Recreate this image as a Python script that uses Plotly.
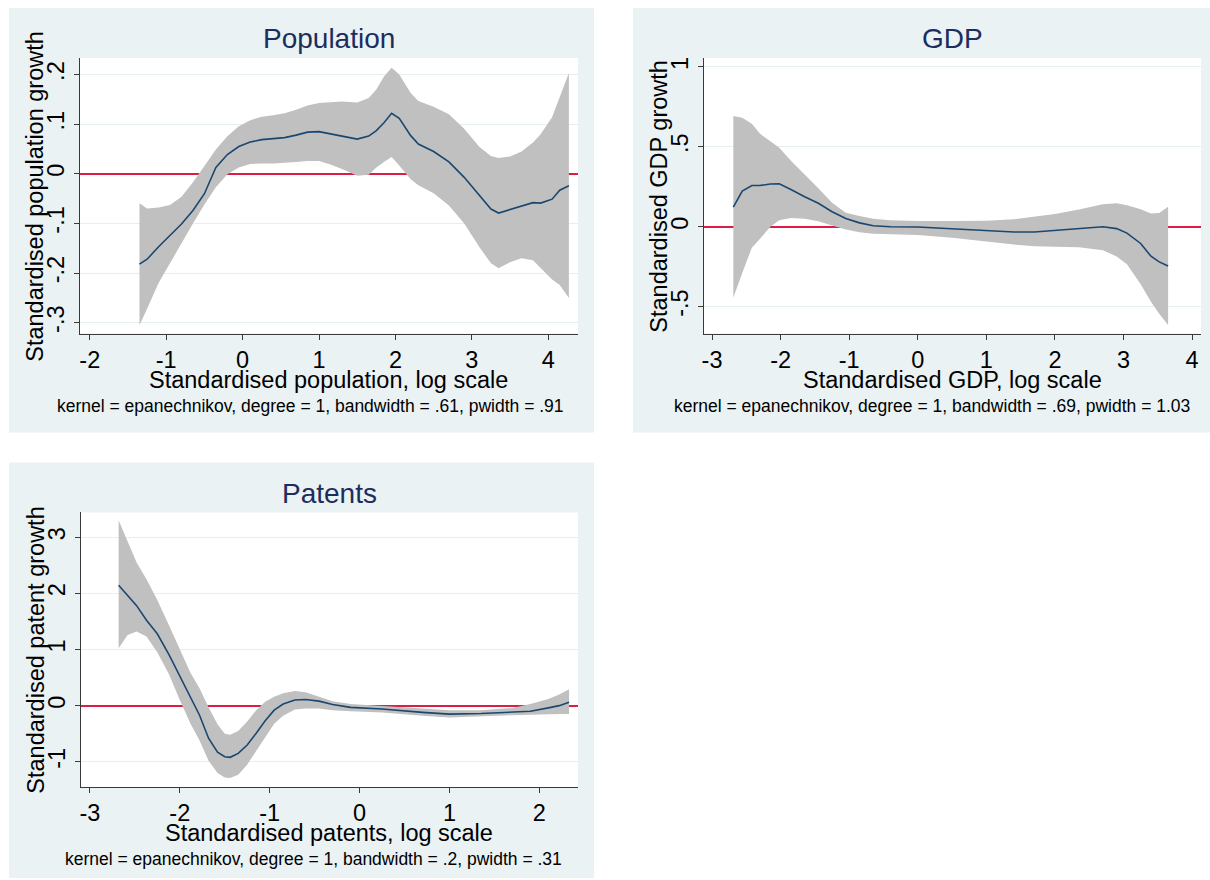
import plotly.graph_objects as go

# ---------------- data: local-polynomial smooths with 95% CI bands ----------------
pop_x = [-1.35, -1.25, -1.1, -0.95, -0.8, -0.65, -0.5, -0.35, -0.2, -0.05, 0.1, 0.25, 0.4,
         0.55, 0.7, 0.85, 1.0, 1.15, 1.3, 1.5, 1.65, 1.75, 1.85, 1.95, 2.05, 2.2, 2.3, 2.5,
         2.7, 2.9, 3.1, 3.25, 3.35, 3.5, 3.65, 3.8, 3.9, 4.05, 4.15, 4.27]
pop_fit = [-0.182, -0.172, -0.147, -0.124, -0.101, -0.074, -0.040, 0.013, 0.039, 0.055, 0.064,
           0.069, 0.071, 0.073, 0.078, 0.084, 0.085, 0.081, 0.076, 0.070, 0.076, 0.087, 0.103,
           0.122, 0.112, 0.077, 0.060, 0.045, 0.024, -0.007, -0.044, -0.071, -0.079, -0.072,
           -0.064, -0.058, -0.059, -0.051, -0.033, -0.024]
pop_hi = [-0.059, -0.070, -0.068, -0.063, -0.046, -0.017, 0.016, 0.049, 0.076, 0.096, 0.108,
          0.115, 0.118, 0.122, 0.129, 0.138, 0.143, 0.145, 0.146, 0.144, 0.153, 0.170, 0.196,
          0.214, 0.200, 0.163, 0.147, 0.135, 0.120, 0.091, 0.054, 0.036, 0.032, 0.035, 0.045,
          0.063, 0.080, 0.114, 0.154, 0.203]
pop_lo = [-0.305, -0.272, -0.220, -0.180, -0.141, -0.100, -0.062, -0.027, -0.001, 0.013, 0.020,
          0.021, 0.021, 0.022, 0.024, 0.026, 0.026, 0.019, 0.010, -0.004, -0.002, 0.013, 0.024,
          0.034, 0.017, -0.011, -0.023, -0.039, -0.064, -0.100, -0.148, -0.180, -0.190, -0.178,
          -0.170, -0.174, -0.190, -0.213, -0.224, -0.250]

gdp_x = [-2.69, -2.56, -2.42, -2.3, -2.15, -2.02, -1.85, -1.65, -1.45, -1.25, -1.05, -0.85,
         -0.65, -0.4, 0.0, 0.5, 1.0, 1.4, 1.7, 2.0, 2.35, 2.7, 2.9, 3.05, 3.25, 3.4, 3.52, 3.65]
gdp_fit = [0.123, 0.223, 0.258, 0.258, 0.267, 0.268, 0.233, 0.187, 0.147, 0.094, 0.052, 0.024,
           0.006, 0.0, -0.002, -0.012, -0.023, -0.033, -0.033, -0.024, -0.012, 0.0, -0.012,
           -0.040, -0.105, -0.185, -0.220, -0.246]
gdp_hi = [0.692, 0.681, 0.644, 0.581, 0.535, 0.494, 0.412, 0.328, 0.240, 0.150, 0.088, 0.067,
          0.050, 0.041, 0.035, 0.035, 0.038, 0.046, 0.062, 0.080, 0.108, 0.140, 0.147, 0.135,
          0.110, 0.082, 0.086, 0.125]
gdp_lo = [-0.444, -0.290, -0.131, -0.075, 0.000, 0.040, 0.054, 0.050, 0.034, 0.008, -0.018,
          -0.035, -0.044, -0.047, -0.052, -0.069, -0.092, -0.112, -0.123, -0.126, -0.129, -0.148,
          -0.186, -0.235, -0.360, -0.470, -0.545, -0.615]

pat_x = [-2.68, -2.58, -2.48, -2.37, -2.25, -2.12, -2.0, -1.88, -1.78, -1.68, -1.58, -1.5,
         -1.44, -1.35, -1.25, -1.15, -1.05, -0.95, -0.85, -0.72, -0.6, -0.45, -0.3, -0.1, 0.25,
         0.7, 1.0, 1.35, 1.7, 1.9, 2.1, 2.22, 2.33]
pat_fit = [2.145, 1.97, 1.78, 1.52, 1.28, 0.91, 0.52, 0.13, -0.17, -0.58, -0.83, -0.91, -0.92,
           -0.85, -0.70, -0.49, -0.27, -0.08, 0.03, 0.10, 0.11, 0.08, 0.02, -0.03, -0.06, -0.12,
           -0.15, -0.14, -0.12, -0.10, -0.04, 0.0, 0.06]
pat_hi = [3.30, 2.92, 2.55, 2.25, 1.88, 1.43, 1.02, 0.58, 0.31, -0.03, -0.33, -0.50, -0.52,
          -0.45, -0.28, -0.08, 0.07, 0.16, 0.22, 0.26, 0.24, 0.16, 0.08, 0.03, 0.0, -0.05, -0.08,
          -0.08, -0.04, 0.03, 0.12, 0.20, 0.29]
pat_lo = [1.02, 1.26, 1.32, 1.23, 0.95, 0.56, 0.10, -0.32, -0.62, -0.98, -1.20, -1.28, -1.29,
          -1.23, -1.05, -0.82, -0.56, -0.32, -0.18, -0.07, -0.05, -0.05, -0.08, -0.10, -0.12,
          -0.18, -0.21, -0.19, -0.17, -0.16, -0.15, -0.15, -0.15]

# tick labels
pop_xticks = [-2, -1, 0, 1, 2, 3, 4]
pop_yticks = [0.2, 0.1, 0, -0.1, -0.2, -0.3]
pop_ytext = [".2", ".1", "0", "-.1", "-.2", "-.3"]
gdp_xticks = [-3, -2, -1, 0, 1, 2, 3, 4]
gdp_yticks = [1, 0.5, 0, -0.5]
gdp_ytext = ["1", ".5", "0", "-.5"]
pat_xticks = [-3, -2, -1, 0, 1, 2]
pat_yticks = [3, 2, 1, 0, -1]
pat_ytext = ["3", "2", "1", "0", "-1"]

# ---------------- styling ----------------
W, H = 1210, 880
FONT = "Liberation Sans, Arial, sans-serif"
PANEL_BG = "#EAF2F3"
GRID = "#E6EEF0"
AXIS = "#3A3A3A"
BAND = "#C0C0C0"
LINE = "#1A476F"
REF = "#DC1E46"
TITLE_C = "#1C2D5E"
TICK_SIZE = 23.5
AXTITLE_SIZE = 23.5
TITLE_SIZE = 28
NOTE_SIZE = 17.5


def fx(p):
    return p / W


def fy(p):
    return 1 - p / H


panels = [
    dict(name="Population", ax="", bg=(7, 7, 593, 432), plot=(78, 57, 577, 333),
         xr=[-2.13, 4.39], yr=[-0.322, 0.2336],
         x=pop_x, fit=pop_fit, hi=pop_hi, lo=pop_lo,
         xt=pop_xticks, yt=pop_yticks, ytx=pop_ytext,
         ytitle="Standardised population growth",
         xtitle="Standardised population, log scale",
         note="kernel = epanechnikov, degree = 1, bandwidth = .61, pwidth = .91", note_x=309),
    dict(name="GDP", ax="2", bg=(632, 7, 1210, 432), plot=(703, 57, 1201, 333),
         xr=[-3.12, 4.13], yr=[-0.669, 1.056],
         x=gdp_x, fit=gdp_fit, hi=gdp_hi, lo=gdp_lo,
         xt=gdp_xticks, yt=gdp_yticks, ytx=gdp_ytext,
         ytitle="Standardised GDP growth",
         xtitle="Standardised GDP, log scale",
         note="kernel = epanechnikov, degree = 1, bandwidth = .69, pwidth = 1.03", note_x=932),
    dict(name="Patents", ax="3", bg=(7, 462, 593, 878), plot=(79, 512, 577, 787),
         xr=[-3.10, 2.43], yr=[-1.45, 3.44],
         x=pat_x, fit=pat_fit, hi=pat_hi, lo=pat_lo,
         xt=pat_xticks, yt=pat_yticks, ytx=pat_ytext,
         ytitle="Standardised patent growth",
         xtitle="Standardised patents, log scale",
         note="kernel = epanechnikov, degree = 1, bandwidth = .2, pwidth = .31", note_x=312),
]

fig = go.Figure()
shapes = []
annotations = []
layout_axes = {}

for p in panels:
    xa, ya = "x" + p["ax"], "y" + p["ax"]
    L, T, R, B = p["plot"]
    cx = (L + R) / 2

    # confidence band
    fig.add_trace(go.Scatter(
        x=p["x"] + p["x"][::-1], y=p["hi"] + p["lo"][::-1],
        fill="toself", fillcolor=BAND, line=dict(width=0), mode="lines",
        hoverinfo="skip", showlegend=False, xaxis=xa, yaxis=ya))
    # smoothed fit
    fig.add_trace(go.Scatter(
        x=p["x"], y=p["fit"], mode="lines", line=dict(color=LINE, width=1.6),
        showlegend=False, xaxis=xa, yaxis=ya))

    # panel background
    bl, bt, br, bb = p["bg"]
    shapes.append(dict(type="rect", xref="paper", yref="paper",
                       x0=fx(bl), x1=fx(br), y0=fy(bb), y1=fy(bt),
                       fillcolor=PANEL_BG, line=dict(width=0), layer="below"))
    # white plot region
    shapes.append(dict(type="rect", xref=xa + " domain", yref=ya + " domain",
                       x0=0, x1=1, y0=0, y1=1, fillcolor="white",
                       line=dict(width=0), layer="below"))

    key = p["ax"]
    layout_axes["xaxis" + key] = dict(
        domain=[fx(L), fx(R)], anchor=ya, range=p["xr"],
        tickvals=p["xt"], ticktext=[str(v) for v in p["xt"]],
        showgrid=False, zeroline=False, showline=True, linecolor=AXIS, linewidth=1.2,
        ticks="outside", ticklen=5, tickcolor=AXIS, tickwidth=1,
        tickfont=dict(family=FONT, size=TICK_SIZE, color="black"))
    # the red reference line at zero is the y-axis zero line (above grid, below traces)
    layout_axes["yaxis" + key] = dict(
        domain=[fy(B), fy(T)], anchor=xa, range=p["yr"],
        tickvals=p["yt"], ticktext=p["ytx"], tickangle=-90,
        showgrid=True, gridcolor=GRID, gridwidth=1.2,
        zeroline=True, zerolinecolor=REF, zerolinewidth=1.6,
        showline=True, linecolor=AXIS, linewidth=1.2,
        ticks="outside", ticklen=5, tickcolor=AXIS, tickwidth=1,
        tickfont=dict(family=FONT, size=TICK_SIZE, color="black"))

    annotations += [
        dict(text=p["name"], x=fx(cx), y=fy(T - 19), xref="paper", yref="paper",
             xanchor="center", yanchor="middle", showarrow=False,
             font=dict(family=FONT, size=TITLE_SIZE, color=TITLE_C)),
        dict(text=p["xtitle"], x=fx(cx), y=fy(B + 46), xref="paper", yref="paper",
             xanchor="center", yanchor="middle", showarrow=False,
             font=dict(family=FONT, size=AXTITLE_SIZE, color="black")),
        dict(text=p["ytitle"], x=fx(L - 45), y=fy((T + B) / 2), xref="paper", yref="paper",
             xanchor="center", yanchor="middle", textangle=-90, showarrow=False,
             font=dict(family=FONT, size=AXTITLE_SIZE, color="black")),
        dict(text=p["note"], x=fx(p["note_x"]), y=fy(B + 72), xref="paper", yref="paper",
             xanchor="center", yanchor="middle", showarrow=False,
             font=dict(family=FONT, size=NOTE_SIZE, color="black")),
    ]

fig.update_layout(
    width=W, height=H, autosize=False,
    margin=dict(l=0, r=0, t=0, b=0, pad=0),
    paper_bgcolor="white", plot_bgcolor="white",
    shapes=shapes, annotations=annotations, showlegend=False,
    **layout_axes)

fig.write_html("out.html")
